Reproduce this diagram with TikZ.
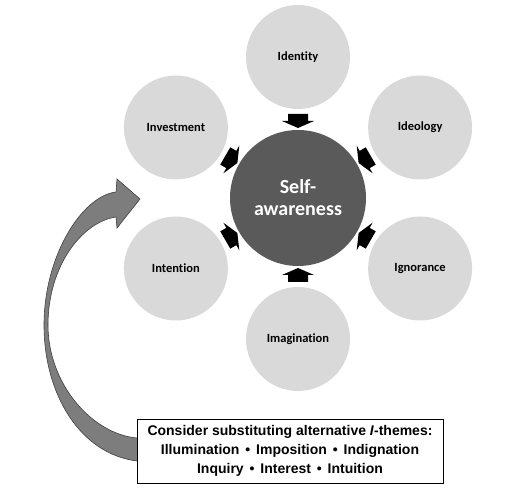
\documentclass[tikz,border=0pt]{standalone}
\usepackage{fontspec}
\setmainfont{Carlito}[Ligatures={NoCommon}]
\newfontfamily\arialfont{Liberation Sans}
\usepackage{xcolor}
\usetikzlibrary{calc}

\definecolor{coregray}{RGB}{90,90,90}
\definecolor{themegray}{RGB}{217,217,217}
\definecolor{sweepgray}{RGB}{125,125,125}
\newcommand{\themesep}{\ \kern2pt•\kern2pt\ }

\begin{document}
\begin{tikzpicture}[
  x=1pt, y=1pt,
  core/.style={circle, fill=coregray, minimum size=136pt, inner sep=0pt, align=center,
               text=white, font=\fontsize{20}{22}\selectfont\bfseries},
  theme/.style={circle, fill=themegray, minimum size=104pt, inner sep=0pt,
                font=\fontsize{12.5}{14}\selectfont\bfseries},
  note/.style={draw, fill=white, line width=0.8pt, align=center, minimum width=306pt,
               minimum height=64pt, inner sep=2pt,
               font=\arialfont\fontsize{14}{19}\selectfont\bfseries},
  sweep/.style={fill=sweepgray, draw=black!75, line width=0.6pt},
]
  \useasboundingbox (0,0) rectangle (531,494);

  % ---------------- curved arrow (drawn first, the box hides its foot) ----------------
  \coordinate (footout) at (150,33);
  \coordinate (footin) at (150,56);
  \coordinate (tip) at (140,295);
  \draw[sweep] (footout) -- (137,33)
    .. controls (80,40) and (44,100) .. (44,169)
    .. controls (44,238) and (82,298) .. (116,302)
    -- (117,315) -- (tip) -- (117,266) -- (116,277)
    .. controls (82,272) and (48,228) .. (48,169)
    .. controls (48,110) and (92,60) .. (137,56) -- (footin) -- cycle;

  % ---------------- the six I-themes ----------------
  \node[core] (self) at (298,296) {Self-\\awareness};
  \foreach \ang/\name/\txt in {90/identity/Identity, 30/ideology/Ideology,
      -30/ignorance/Ignorance, -90/imagination/Imagination,
      -150/intention/Intention, 150/investment/Investment}
  {
    \path (self.center) ++(\ang:141) node[theme] (\name) {\txt};
    % block arrow pointing in to the centre
    \fill[shift={(self.center)}, rotate=\ang]
      (84,-10) -- (77,-10) -- (77,-16) -- (70,0) -- (77,16) -- (77,10) -- (84,10) -- cycle;
  }

  % ---------------- note box ----------------
  \node[note] (alt) at (290,43)
    {Consider substituting alternative \textit{I}-themes:\\
     Illumination\themesep Imposition\themesep Indignation\\
     Inquiry\themesep Interest\themesep Intuition};
\end{tikzpicture}
\end{document}
